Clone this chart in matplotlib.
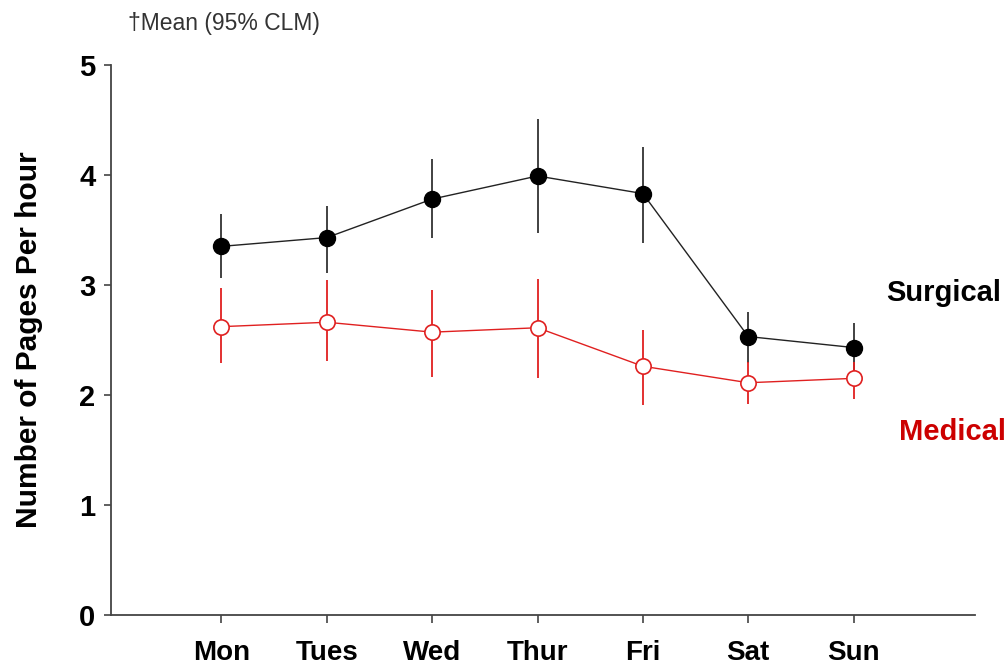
import numpy as np
import matplotlib.pyplot as plt

plt.rcParams['font.family'] = ['Liberation Sans', 'DejaVu Sans']

days = ["Mon", "Tues", "Wed", "Thur", "Fri", "Sat", "Sun"]

surg_mean = [3.35, 3.43, 3.78, 3.99, 3.83, 2.53, 2.43]
surg_lo = [3.06, 3.11, 3.43, 3.47, 3.38, 2.29, 2.23]
surg_hi = [3.64, 3.72, 4.14, 4.51, 4.25, 2.75, 2.65]

med_mean = [2.62, 2.66, 2.57, 2.61, 2.26, 2.11, 2.15]
med_lo = [2.29, 2.31, 2.16, 2.15, 1.91, 1.92, 1.96]
med_hi = [2.97, 3.04, 2.95, 3.05, 2.59, 2.30, 2.30]

x = np.arange(1, len(days) + 1)
red = "#e02020"

fig = plt.figure(figsize=(10.08, 6.69), dpi=100)
ax = fig.add_axes([0.110, 0.081, 0.857, 0.822])

# error bars (no caps)
ax.vlines(x, surg_lo, surg_hi, color="#333333", lw=1.3, zorder=2)
ax.vlines(x, med_lo, med_hi, color=red, lw=1.3, zorder=2)

ax.plot(x, surg_mean, color="#222222", lw=1.0, marker="o", ms=11.5,
        mfc="black", mec="black", zorder=3)
ax.plot(x, med_mean, color=red, lw=1.0, marker="o", ms=11,
        mfc="white", mec=red, mew=1.2, zorder=3)

ax.set_xlim(-0.05, 8.15)
ax.set_ylim(0, 5)
ax.set_xticks(x)
ax.set_xticklabels(days, fontsize=20, fontweight="bold")
ax.set_yticks(range(6))
ax.set_yticklabels([str(i) for i in range(6)], fontsize=21, fontweight="bold")
ax.tick_params(axis="x", length=6, width=1.2, color="#444444", pad=12)
ax.tick_params(axis="y", length=5, width=1.2, color="#444444", pad=6)

for s in ["top", "right"]:
    ax.spines[s].set_visible(False)
for s in ["left", "bottom"]:
    ax.spines[s].set_color("#444444")
    ax.spines[s].set_linewidth(1.3)

ax.set_ylabel("Number of Pages Per hour", fontsize=21.5, fontweight="bold", labelpad=26)

fig.text(0.993, 0.562, "Surgical", ha="right", va="center", fontsize=21,
         fontweight="bold", color="black")
fig.text(0.998, 0.355, "Medical", ha="right", va="center", fontsize=21,
         fontweight="bold", color="#cc0000")
fig.text(0.127, 0.965, "\u2020Mean (95% CLM)", ha="left", va="center", fontsize=16.5,
         color="#333333")

fig.savefig("out.png", dpi=100)
